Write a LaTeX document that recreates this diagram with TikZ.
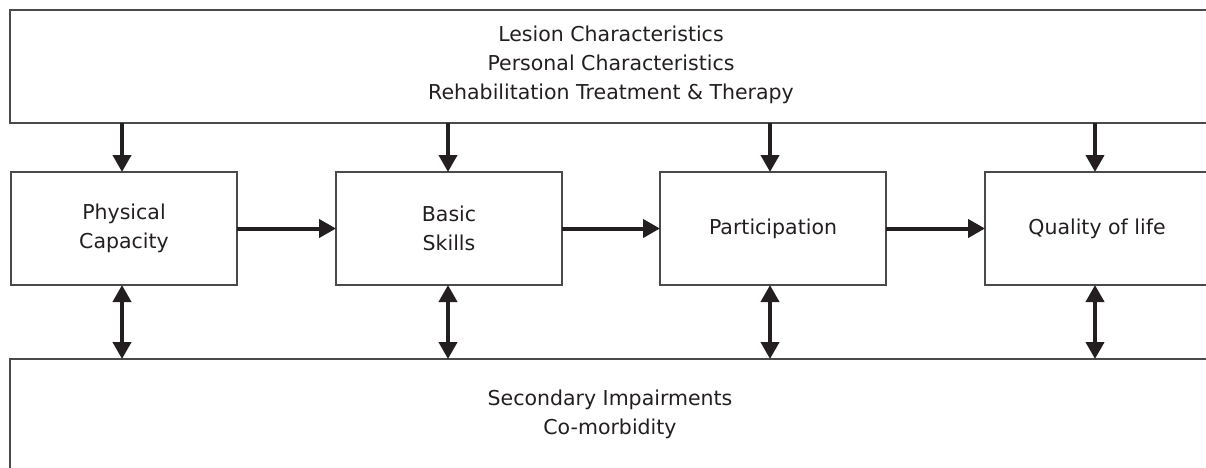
\documentclass[tikz,border=0pt]{standalone}
\usepackage{fontspec}
\setmainfont{DejaVu Sans}
\usetikzlibrary{arrows.meta}
\definecolor{ink}{HTML}{231F20}
\definecolor{edge}{HTML}{4A4A4A}
\begin{document}
\begin{tikzpicture}[x=1pt,y=-1pt,
  box/.style={draw=edge,line width=1.4pt,rectangle,inner sep=0pt,outer sep=0pt,
    anchor=north west,align=center,text=ink,
    font=\fontsize{20.5}{29}\selectfont},
  arr/.style={draw=ink,line width=4pt,-{Triangle[width=18pt,length=17pt]}},
  darr/.style={draw=ink,line width=4pt,{Triangle[width=18pt,length=17pt]}-{Triangle[width=18pt,length=17pt]}}]
\useasboundingbox (0,0) rectangle (1206,467);
\clip (0,0) rectangle (1206,467);
\node[box,minimum width=1200pt,minimum height=113pt] (top) at (10,10) {};
\node[text=ink,font=\fontsize{20.5}{29}\selectfont,align=center] (toptext) at (611,65)
  {Lesion Characteristics\\Personal Characteristics\\Rehabilitation Treatment \& Therapy};
\node[box,minimum width=1200pt,minimum height=130pt] (bot) at (10,359) {};
\node[text=ink,font=\fontsize{20.5}{29}\selectfont,align=center] (bottext) at (610,414)
  {Secondary Impairments\\Co-morbidity};
\node[box,minimum width=226pt,minimum height=113pt] (b1) at (11,172) {Physical\\Capacity};
\node[box,minimum width=226pt,minimum height=113pt] (b2) at (336,172) {Basic\\Skills};
\node[box,minimum width=226pt,minimum height=113pt] (b3) at (660,172) {Participation};
\node[box,minimum width=224pt,minimum height=113pt] (b4) at (985,172) {Quality of life};
\draw[arr] (b1.east) -- (b2.west);
\draw[arr] (b2.east) -- (b3.west);
\draw[arr] (b3.east) -- (b4.west);
\foreach \b/\s in {b1/-2,b2/-1,b3/-3,b4/-2}{
  \draw[arr] ([xshift=\s pt]\b.north |- top.south) -- ([xshift=\s pt]\b.north);
  \draw[darr] ([xshift=\s pt]\b.south) -- ([xshift=\s pt]\b.south |- bot.north);
}
\end{tikzpicture}
\end{document}
